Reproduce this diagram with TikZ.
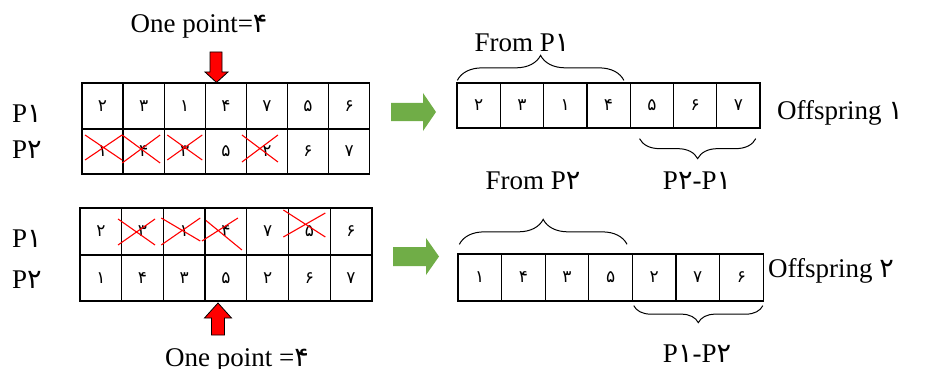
\documentclass[tikz,border=0pt]{standalone}
\usepackage{fontspec}
\setmainfont{Liberation Serif}
\newfontfamily\fad{DejaVu Sans}
\usetikzlibrary{decorations.pathreplacing,calc}
\begin{document}
\begin{tikzpicture}[x=1pt,y=-1pt,
  cell/.style={draw, line width=1.3pt, inner sep=0pt, font=\fad\fontsize{17}{17}\selectfont},
  lbl/.style={font=\fontsize{27}{27}\selectfont, inner sep=0pt},
  xmark/.style={draw=red, line width=1.1pt},
  redarrow/.style={fill=red, draw=black, line width=0.8pt},
  greenarrow/.style={fill={rgb,255:red,112;green,173;blue,71}, draw=none},
  bracestyle/.style={decorate, decoration={brace, amplitude=#1}, line width=1pt}]
\useasboundingbox (0,0) rectangle (935,369);

% ---------- top-left table ----------
\foreach \v [count=\i] in {۲,۳,۱,۴,۷,۵,۶}
  \node[cell, minimum width=41.1pt, minimum height=46pt] (a\i) at ({82+41.1*(\i-0.5)},106) {\v};
\foreach \v [count=\i] in {۱,۴,۳,۵,۲,۶,۷}
  \node[cell, minimum width=41.1pt, minimum height=45pt] (b\i) at ({82+41.1*(\i-0.5)},151.5) {\v};

% ---------- bottom-left table ----------
\foreach \v [count=\i] in {۲,۳,۱,۴,۷,۵,۶}
  \node[cell, minimum width=41.7pt, minimum height=47pt] (c\i) at ({80+41.7*(\i-0.5)},231.5) {\v};
\foreach \v [count=\i] in {۱,۴,۳,۵,۲,۶,۷}
  \node[cell, minimum width=41.7pt, minimum height=46pt] (d\i) at ({80+41.7*(\i-0.5)},278) {\v};

% ---------- offspring tables ----------
\foreach \v [count=\i] in {۲,۳,۱,۴,۵,۶,۷}
  \node[cell, minimum width=43.3pt, minimum height=45pt] (e\i) at ({457+43.3*(\i-0.5)},105.5) {\v};
\foreach \v [count=\i] in {۱,۴,۳,۵,۲,۷,۶}
  \node[cell, minimum width=43.6pt, minimum height=47pt] (f\i) at ({458+43.6*(\i-0.5)},277.5) {\v};

% ---------- crosses ----------
\draw[xmark] (b1.center) ++(-17.5,-16.5) -- ++(37,25) (b1.center) ++(-17.5,8.5) -- ++(37,-25);
\draw[xmark] (b2.center) ++(-21.5,-16.5) -- ++(38,28) (b2.center) ++(-21.5,11.5) -- ++(38,-28);
\draw[xmark] (b3.center) ++(-17.5,-16.5) -- ++(35,25) (b3.center) ++(-17.5,8.5) -- ++(35,-25);
\draw[xmark] (b5.center) ++(-25,-16.5) -- ++(36,27) (b5.center) ++(-25,10.5) -- ++(36,-27);

\draw[xmark] (c2.center) ++(-24.5,-12.5) -- ++(37,26) (c2.center) ++(-24.5,13.5) -- ++(37,-26);
\draw[xmark] (c3.center) ++(-23,-13.5) -- ++(39,23) (c3.center) ++(-23,13.5) -- ++(39,-27);
\draw[xmark] (c4.center) ++(-20,-11) -- ++(36,29.5) (c4.center) ++(-24,9.5) -- ++(36,-23);
\draw[xmark] (c6.center) ++(-26,-21.5) -- ++(42,27) (c6.center) ++(-26,5.5) -- ++(42,-24);

% ---------- red arrows ----------
\draw[redarrow] (210,52) -- (222,52) -- (222,72) -- (228,72) -- (216.5,82.5) -- (205,72) -- (210,72) -- cycle;
\draw[redarrow] (211.5,335) -- (224.5,335) -- (224.5,318) -- (231.5,318) -- (218,303) -- (204.5,318) -- (211.5,318) -- cycle;

% ---------- green arrows ----------
\fill[greenarrow] (391,103) -- (423,103) -- (423,93) -- (436,112) -- (423,131) -- (423,121) -- (391,121) -- cycle;
\fill[greenarrow] (393,247) -- (426,247) -- (426,238) -- (439,256.5) -- (426,275) -- (426,266) -- (393,266) -- cycle;

% ---------- braces ----------
\draw[bracestyle=25] ($(e1.north west)+(1,-2)$) -- ($(e4.north east)+(-7,-2)$);
\draw[bracestyle=20] ($(e7.south east)+(-5,10)$) -- ($(e5.south west)+(10,10)$);
\draw[bracestyle=25] ($(f1.north west)+(2,-9)$) -- ($(f4.north east)+(-6,-9)$);
\draw[bracestyle=17] ($(f7.south east)+(-1,4)$) -- ($(f5.south west)+(2,4)$);

% ---------- labels ----------
\node[lbl, anchor=base] (op1) at (199,33) {One point={\fad ۴}};
\node[lbl, anchor=base] (op2) at (237,366) {One point ={\fad ۴}};
\node[lbl, anchor=base west] (p1a) at (12,122) {P{\fad ۱}};
\node[lbl, anchor=base west] (p2a) at (12,158) {P{\fad ۲}};
\node[lbl, anchor=base west] (p1b) at (12,247) {P{\fad ۱}};
\node[lbl, anchor=base west] (p2b) at (12,288) {P{\fad ۲}};
\node[lbl, anchor=base] (fp1) at (522,52) {From P{\fad ۱}};
\node[lbl, anchor=base] (fp2) at (533,189) {From P{\fad ۲}};
\node[lbl, anchor=base] (p21) at (697,189) {P{\fad ۲}-P{\fad ۱}};
\node[lbl, anchor=base] (p12) at (697,362) {P{\fad ۱}-P{\fad ۲}};
\node[lbl, anchor=base west] (off1) at (777,119) {Offspring {\fad ۱}};
\node[lbl, anchor=base west] (off2) at (768,277) {Offspring {\fad ۲}};
\end{tikzpicture}
\end{document}
